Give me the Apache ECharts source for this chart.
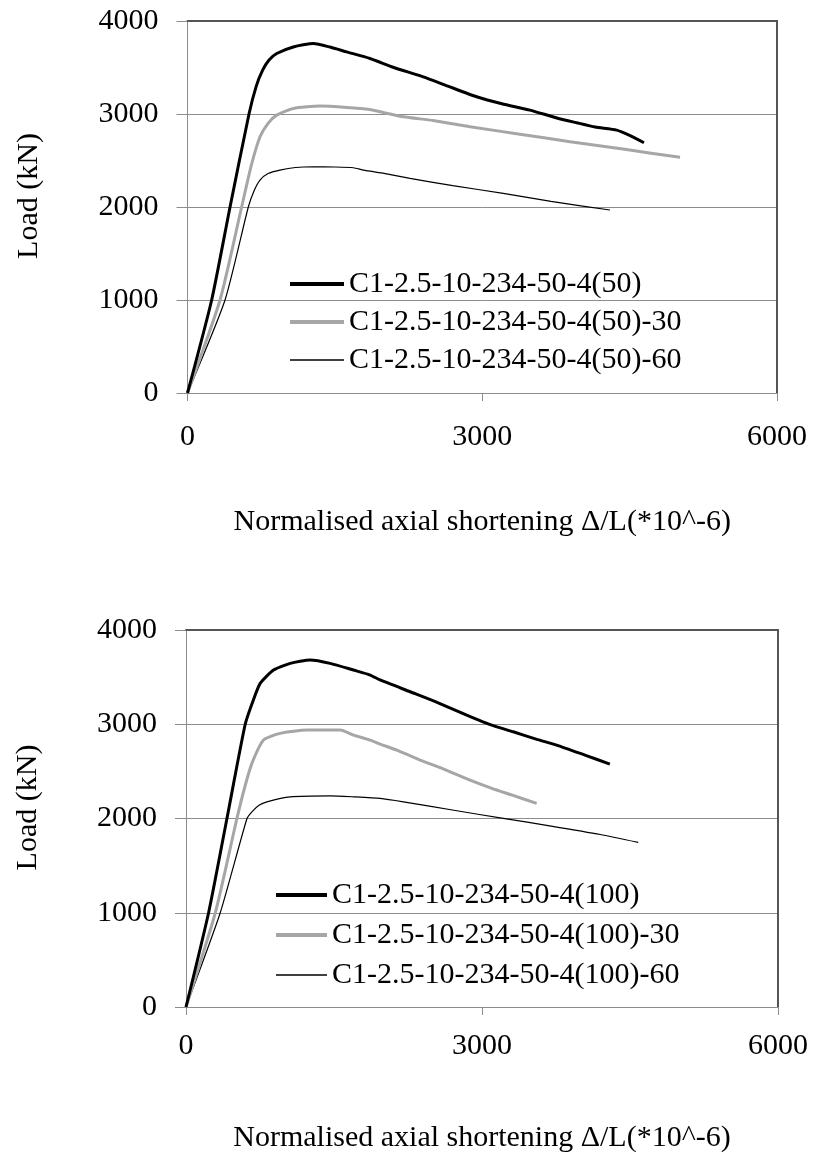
<!DOCTYPE html>
<html>
<head>
<meta charset="utf-8">
<script src="https://cdn.jsdelivr.net/npm/echarts@6/dist/echarts.min.js"></script>
<style>
  html, body { margin: 0; padding: 0; background: #fff; }
  #main { width: 813px; height: 1156px; }
</style>
</head>
<body>
<div id="main"></div>
<script>
// tick values
var xTicks = [0, 3000, 6000];
var yTicks = [0, 1000, 2000, 3000, 4000];

// top chart, (50)
var names50 = ["C1-2.5-10-234-50-4(50)", "C1-2.5-10-234-50-4(50)-30", "C1-2.5-10-234-50-4(50)-60"];
var strain50 = [0, 246, 433, 626, 700, 765, 830, 908, 1077, 1281, 1450, 1620, 1857, 2100, 2400, 2650, 2943, 3200, 3486, 3750, 3961, 4150, 4368, 4500, 4646];
var load50 = [0, 1000, 2000, 3000, 3300, 3471, 3580, 3650, 3721, 3758, 3720, 3668, 3597, 3500, 3400, 3300, 3185, 3110, 3042, 2960, 2906, 2860, 2827, 2770, 2691];
var strain50_30 = [0, 331, 551, 650, 738, 820, 908, 1077, 1349, 1620, 1857, 1959, 2197, 2500, 2875, 3400, 3893, 4450, 5013];
var load50_30 = [0, 1000, 2000, 2450, 2755, 2900, 2988, 3060, 3085, 3071, 3049, 3024, 2970, 2930, 2863, 2780, 2702, 2620, 2534];
var strain50_60 = [0, 382, 619, 680, 738, 820, 941, 1100, 1281, 1500, 1688, 1780, 1857, 2000, 2265, 2700, 3214, 3700, 4300];
var load50_60 = [0, 1000, 2000, 2180, 2290, 2360, 2397, 2425, 2433, 2430, 2422, 2400, 2385, 2362, 2308, 2230, 2147, 2060, 1968];

// bottom chart, (100)
var names100 = ["C1-2.5-10-234-50-4(100)", "C1-2.5-10-234-50-4(100)-30", "C1-2.5-10-234-50-4(100)-60"];
var strain100 = [0, 229, 415, 600, 680, 752, 887, 1056, 1259, 1461, 1697, 1866, 1967, 2271, 2550, 2845, 3100, 3317, 3556, 3756, 4050, 4296];
var load100 = [0, 1000, 2000, 3000, 3250, 3434, 3575, 3646, 3682, 3646, 3575, 3522, 3470, 3345, 3230, 3098, 2990, 2920, 2840, 2779, 2670, 2577];
var strain100_30 = [0, 297, 516, 600, 668, 786, 955, 1225, 1562, 1697, 1866, 1967, 2150, 2372, 2600, 2879, 3100, 3300, 3554];
var load100_30 = [0, 1000, 2000, 2350, 2585, 2832, 2903, 2938, 2938, 2885, 2832, 2790, 2720, 2620, 2530, 2407, 2320, 2250, 2160];
var strain100_60 = [0, 347, 618, 668, 740, 820, 1056, 1461, 1700, 1967, 2203, 2700, 3216, 3700, 4200, 4583];
var load100_60 = [0, 1000, 2000, 2071, 2140, 2177, 2230, 2241, 2230, 2213, 2177, 2090, 2001, 1920, 1830, 1746];

var font = "'Liberation Serif', 'Times New Roman', serif";
var gridGray = "#8c8c8c";
var frameDark = "#555555";
var xTitle = "Normalised axial shortening \u0394/L(*10^-6)";

function zip(xs, ys) {
  var out = [];
  for (var i = 0; i < xs.length; i++) out.push([xs[i], ys[i]]);
  return out;
}

function plain(v) {
  return String(v);
}

function bottomAxes(g, labelMargin, titleGap) {
  return {
    gridIndex: g,
    type: "value",
    min: xTicks[0],
    max: xTicks[xTicks.length - 1],
    interval: xTicks[1] - xTicks[0],
    name: xTitle,
    nameLocation: "middle",
    nameGap: titleGap,
    nameTextStyle: { fontFamily: font, fontSize: 30, color: "#000" },
    axisLine: { show: true, onZero: false, lineStyle: { color: gridGray, width: 1 } },
    axisTick: { show: true, inside: false, length: 8, lineStyle: { color: gridGray } },
    axisLabel: { margin: labelMargin, fontFamily: font, fontSize: 30, color: "#000", formatter: plain },
    splitLine: { show: false }
  };
}

function topFrame(g) {
  return {
    gridIndex: g,
    type: "value",
    position: "top",
    min: xTicks[0],
    max: xTicks[xTicks.length - 1],
    axisLine: { show: true, onZero: false, lineStyle: { color: frameDark, width: 2 } },
    axisTick: { show: false },
    axisLabel: { show: false },
    splitLine: { show: false }
  };
}

function leftAxis(g) {
  return {
    gridIndex: g,
    type: "value",
    min: yTicks[0],
    max: yTicks[yTicks.length - 1],
    interval: yTicks[1] - yTicks[0],
    name: "Load (kN)",
    nameLocation: "middle",
    nameGap: 143,
    nameTextStyle: { fontFamily: font, fontSize: 30, color: "#000", padding: [0, 0, 0, 22] },
    axisLine: { show: true, onZero: false, lineStyle: { color: gridGray, width: 1 } },
    axisTick: { show: true, inside: false, length: 11, lineStyle: { color: gridGray } },
    axisLabel: { margin: 29, fontFamily: font, fontSize: 30, color: "#000", formatter: plain },
    splitLine: { show: true, lineStyle: { color: gridGray, width: 1 } }
  };
}

function rightFrame(g) {
  return {
    gridIndex: g,
    type: "value",
    position: "right",
    min: yTicks[0],
    max: yTicks[yTicks.length - 1],
    axisLine: { show: true, onZero: false, lineStyle: { color: frameDark, width: 2 } },
    axisTick: { show: false },
    axisLabel: { show: false },
    splitLine: { show: false }
  };
}

// thick black, thick grey, thin black
var styles = [
  { color: "#000000", width: 3, legendWidth: 4 },
  { color: "#a6a6a6", width: 3, legendWidth: 4 },
  { color: "#000000", width: 1.2, legendWidth: 1.5 }
];

function lineSeries(name, data, idx, g) {
  return {
    name: name,
    type: "line",
    xAxisIndex: g * 2,
    yAxisIndex: g * 2,
    data: data,
    symbol: "none",
    smooth: 0.2,
    color: styles[idx].color,
    lineStyle: { color: styles[idx].color, width: styles[idx].width },
    z: 5 - idx
  };
}

function legendItems(names) {
  return names.map(function (n, i) {
    return { name: n, lineStyle: { color: styles[i].color, width: styles[i].legendWidth } };
  });
}

var legendText = { fontFamily: font, fontSize: 30, color: "#000", lineHeight: 30 };

var myChart = echarts.init(document.getElementById("main"), null, { renderer: "canvas" });
var option = {
  animation: false,
  backgroundColor: "#fff",
  grid: [
    { left: 187.5, right: 36, top: 21, height: 372 },
    { left: 186, right: 35, top: 630, height: 377 }
  ],
  legend: [
    {
      data: legendItems(names50),
      orient: "vertical",
      left: 283,
      top: 264,
      itemWidth: 54,
      itemHeight: 14,
      itemGap: 8,
      itemStyle: { opacity: 0 },
      textStyle: legendText,
      selectedMode: false
    },
    {
      data: legendItems(names100),
      orient: "vertical",
      left: 269,
      top: 875,
      itemWidth: 51,
      itemHeight: 14,
      itemGap: 10,
      itemStyle: { opacity: 0 },
      textStyle: legendText,
      selectedMode: false
    }
  ],
  xAxis: [bottomAxes(0, 29, 114), topFrame(0), bottomAxes(1, 24, 116), topFrame(1)],
  yAxis: [leftAxis(0), rightFrame(0), leftAxis(1), rightFrame(1)],
  series: [
    lineSeries(names50[0], zip(strain50, load50), 0, 0),
    lineSeries(names50[1], zip(strain50_30, load50_30), 1, 0),
    lineSeries(names50[2], zip(strain50_60, load50_60), 2, 0),
    lineSeries(names100[0], zip(strain100, load100), 0, 1),
    lineSeries(names100[1], zip(strain100_30, load100_30), 1, 1),
    lineSeries(names100[2], zip(strain100_60, load100_60), 2, 1)
  ]
};
myChart.setOption(option);
</script>
</body>
</html>
